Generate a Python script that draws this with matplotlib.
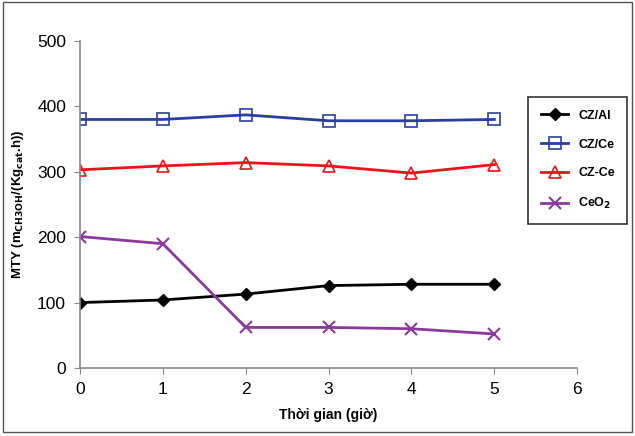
import matplotlib
matplotlib.use("Agg")
import matplotlib.pyplot as plt
from matplotlib.patches import Rectangle

time = [0, 1, 2, 3, 4, 5]
cz_al = [100, 104, 113, 126, 128, 128]
cz_ce_slash = [380, 380, 387, 378, 378, 380]
cz_ce_dash = [303, 309, 314, 309, 298, 311]
ceo2 = [201, 190, 62, 62, 60, 52]
labels = ["CZ/Al", "CZ/Ce", "CZ-Ce", r"CeO$_\mathbf{2}$"]

plt.rcParams['font.family'] = ['Liberation Sans', 'DejaVu Sans']
fig = plt.figure(figsize=(6.35, 4.36), dpi=100)
ax = fig.add_axes([0.126, 0.156, 0.783, 0.75])

ax.plot(time, cz_al, color='black', lw=2, marker='D', ms=6, label=labels[0])
ax.plot(time, cz_ce_slash, color='#2a3f9e', lw=2, marker='s', ms=8, mfc='none', mec='#2a3f9e', mew=1.2, label=labels[1])
ax.plot(time, cz_ce_dash, color='#e8161b', lw=2, marker='^', ms=8, mfc='none', mec='#e8161b', mew=1.2, label=labels[2])
ax.plot(time, ceo2, color='#8a3a9a', lw=2, marker='x', ms=8, mew=1.5, label=labels[3])

ax.set_xlim(0, 6)
ax.set_ylim(0, 500)
ax.set_xticks(range(0, 7))
ax.set_yticks(range(0, 501, 100))
for s in ['top', 'right']:
    ax.spines[s].set_visible(False)
for s in ['left', 'bottom']:
    ax.spines[s].set_color('#888888')
    ax.spines[s].set_linewidth(1.2)
ax.tick_params(direction='out', length=4, color='#888888', labelsize=12.5, pad=6)
ax.set_xlabel("Thời gian (giờ)", fontsize=10, fontweight='bold', labelpad=8)
ax.set_ylabel(r"MTY (m$_{\mathbf{CH3OH}}$/(Kg$_{\mathbf{cat}}$.h))", fontsize=9.5, fontweight='bold', labelpad=8)

leg = fig.legend(loc='upper left', bbox_to_anchor=(522/635, 1 - 91/436), frameon=True,
                 fancybox=False, edgecolor='black', prop={'weight': 'bold', 'size': 9},
                 handlelength=2.2, labelspacing=1.35, borderpad=1.0)
leg.get_frame().set_linewidth(1.2)

fig.patches.append(Rectangle((0.005, 0.01), 0.99, 0.985, transform=fig.transFigure,
                             fill=False, edgecolor='#555555', lw=1))
fig.savefig("out.png", dpi=100)
